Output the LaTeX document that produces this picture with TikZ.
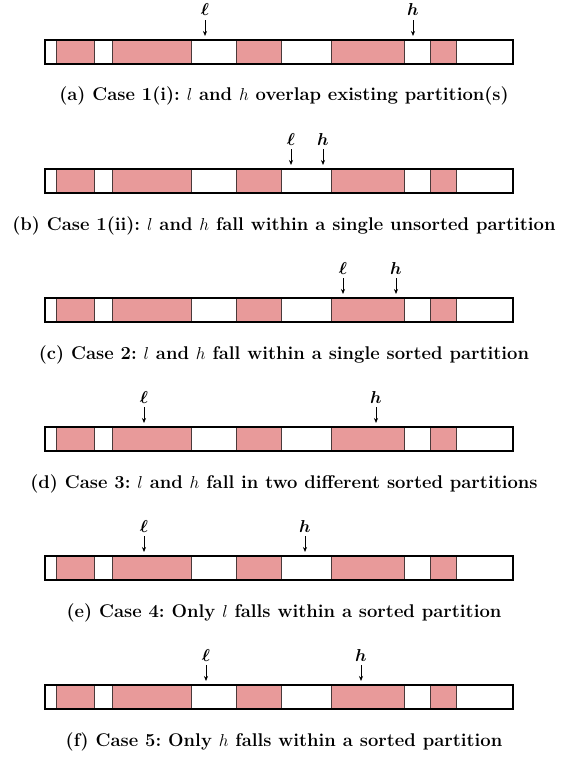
\documentclass[tikz,border=0pt]{standalone}
\usepackage{amsmath}
\usetikzlibrary{arrows.meta}
\frenchspacing
\definecolor{pinkfill}{HTML}{E89A9A}
\definecolor{segline}{HTML}{4A3A3A}
\tikzset{
  pinkseg/.style={fill=pinkfill, draw=segline, line width=0.9pt},
  barbox/.style={draw=black, line width=1.6pt, minimum width=468pt, minimum height=24pt, inner sep=0pt, anchor=north west},
  marklab/.style={inner sep=0pt, font=\fontsize{16}{16}\selectfont},
  arr/.style={-{Stealth[length=5pt,width=4pt]}, line width=0.7pt, shorten <=4pt},
  captext/.style={anchor=base, inner sep=0pt, font=\bfseries\fontsize{18.4}{21}\selectfont}
}
\newcommand\drawpanel[5]{%
  \foreach \a/\b in {56/94,112/191,236/281,331/404,430/456}
    \draw[pinkseg] (\a,#2) rectangle (\b,#2+24);
  \node[barbox] (bar#1) at (44,#2) {};
  \node[marklab] (l#1) at (#3,#2-29) {$\boldsymbol{\ell}$};
  \coordinate (le#1) at (#3,#2-3);
  \draw[arr] (l#1.south) -- (le#1);
  \node[marklab] (h#1) at (#4,#2-29) {$\boldsymbol{h}$};
  \coordinate (he#1) at (#4,#2-3);
  \draw[arr] (h#1.south) -- (he#1);
  \node[captext] (cap#1) at (284,#2+62) {#5};
}
\begin{document}
\begin{tikzpicture}[x=1pt,y=-1pt]
\useasboundingbox (0,0) rectangle (569,757);
\drawpanel{a}{39}{205}{413}{(a) Case 1(i): $l$ and $h$ overlap existing partition(s)}
\drawpanel{b}{168}{291}{323}{(b) Case 1(ii): $l$ and $h$ fall within a single unsorted partition}
\drawpanel{c}{297}{343}{396}{(c) Case 2: $l$ and $h$ fall within a single sorted partition}
\drawpanel{d}{426}{144}{376}{(d) Case 3: $l$ and $h$ fall in two different sorted partitions}
\drawpanel{e}{555}{144}{305}{(e) Case 4: Only $l$ falls within a sorted partition}
\drawpanel{f}{684}{206}{361}{(f) Case 5: Only $h$ falls within a sorted partition}
\end{tikzpicture}
\end{document}
